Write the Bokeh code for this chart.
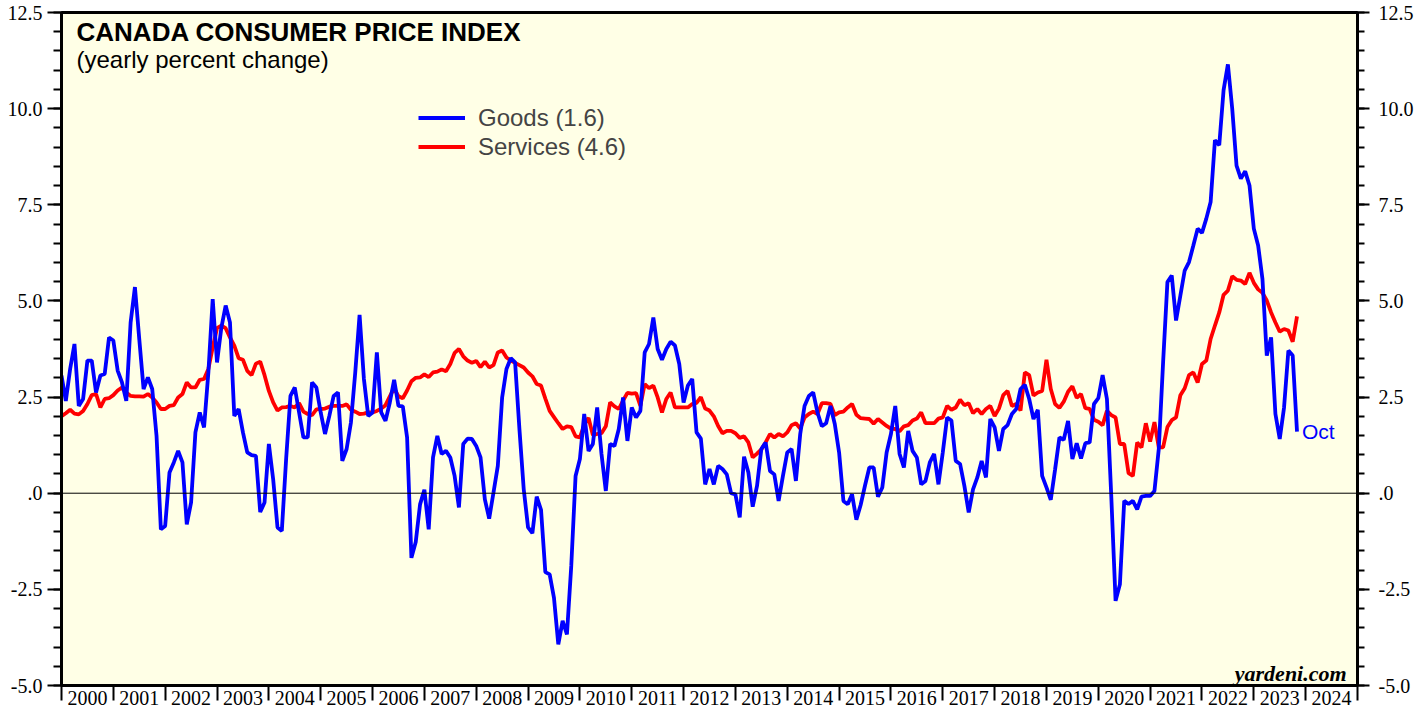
import pandas as pd
from bokeh.plotting import figure
from bokeh.models import (LinearAxis, FixedTicker, PrintfTickFormatter, Range1d,
                          Span, Label, Legend, LegendItem, ColumnDataSource)
from bokeh.embed import file_html
from bokeh.resources import INLINE

# ---------------- data (monthly, yearly % change), first value = Dec 1999 ----------------
start_month = "1999-12"

goods = [
    3.06,
    2.40, 3.23, 3.88, 2.27, 2.45, 3.45, 3.45, 2.62, 3.06, 3.10, 4.05, 3.97,      # 2000
    3.19, 2.88, 2.40, 4.44, 5.36, 4.01, 2.71, 3.01, 2.71, 1.49, -0.94, -0.85,    # 2001
    0.54, 0.80, 1.10, 0.80, -0.81, -0.24, 1.58, 2.10, 1.71, 3.14, 5.05, 3.40,    # 2002
    4.30, 4.88, 4.44, 2.01, 2.19, 1.58, 1.06, 0.99, 0.97, -0.49, -0.24, 1.28,    # 2003
    0.36, -0.89, -0.98, 0.89, 2.53, 2.75, 2.10, 1.45, 1.45, 2.88, 2.75, 2.10,    # 2004
    1.54, 2.01, 2.53, 2.62, 0.84, 1.15, 1.84, 3.14, 4.64, 2.97, 2.01, 2.10,      # 2005
    3.66, 2.10, 1.88, 2.36, 2.95, 2.27, 2.26, 1.45, -1.68, -1.27, -0.29, 0.09,   # 2006
    -0.94, 0.93, 1.49, 1.02, 1.10, 0.93, 0.45, -0.37, 1.28, 1.42, 1.41, 1.23,    # 2007
    0.93, -0.16, -0.66, 0.02, 0.71, 2.49, 3.23, 3.51, 3.40, 1.67, 0.10, -0.89,   # 2008
    -1.04, -0.09, -0.43, -2.05, -2.11, -2.72, -3.93, -3.32, -3.67, -1.89, 0.45, 0.89,  # 2009
    2.06, 1.10, 1.28, 2.23, 1.02, 0.06, 1.28, 1.23, 1.67, 2.49, 1.36, 2.23,      # 2010
    1.97, 2.14, 3.66, 3.88, 4.57, 3.75, 3.47, 3.75, 3.94, 3.84, 3.36, 2.36,      # 2011
    2.80, 2.97, 1.58, 1.42, 0.23, 0.63, 0.23, 0.71, 0.63, 0.49, 0.00, -0.03,     # 2012
    -0.63, 0.95, 0.54, -0.35, 0.19, 1.15, 1.32, 0.58, 0.49, -0.20, 0.45, 1.06,   # 2013
    1.15, 0.32, 1.54, 2.27, 2.53, 2.62, 2.10, 1.74, 1.82, 2.27, 1.80, 1.06,      # 2014
    -0.20, -0.29, -0.03, -0.69, -0.30, 0.20, 0.67, 0.67, -0.09, 0.15, 1.06, 1.54,  # 2015
    2.27, 1.02, 0.67, 1.62, 1.10, 0.93, 0.23, 0.32, 0.80, 1.02, 0.23, 1.06,      # 2016
    1.97, 1.89, 0.84, 0.76, 0.19, -0.50, 0.10, 0.41, 0.84, 0.41, 1.93, 1.71,     # 2017
    1.10, 1.67, 1.77, 2.06, 2.19, 2.71, 2.82, 2.45, 1.93, 2.17, 0.45, 0.15,      # 2018
    -0.17, 0.62, 1.45, 1.39, 1.88, 0.89, 1.30, 0.90, 1.30, 1.32, 2.32, 2.47,     # 2019
    3.07, 2.45, -0.07, -2.80, -2.37, -0.20, -0.28, -0.20, -0.42, -0.09, -0.07, -0.07,  # 2020
    0.06, 1.15, 3.40, 5.49, 5.66, 4.49, 5.14, 5.79, 6.01, 6.44, 6.88, 6.77,      # 2021
    7.14, 7.57, 9.18, 9.05, 10.48, 11.15, 10.00, 8.52, 8.18, 8.37, 8.00, 6.88,   # 2022
    6.44, 5.57, 3.58, 4.05, 2.06, 1.41, 2.23, 3.71, 3.58, 1.60,                  # 2023
]

services = [
    2.00,
    2.08, 2.17, 2.07, 2.05, 2.14, 2.32, 2.55, 2.58, 2.23, 2.45, 2.47, 2.55,      # 2000
    2.67, 2.75, 2.62, 2.53, 2.52, 2.52, 2.51, 2.58, 2.49, 2.36, 2.19, 2.19,      # 2001
    2.27, 2.29, 2.49, 2.58, 2.88, 2.75, 2.75, 2.95, 2.97, 3.23, 3.79, 4.29,      # 2002
    4.36, 4.29, 4.05, 3.84, 3.51, 3.47, 3.18, 3.07, 3.37, 3.42, 3.07, 2.66,      # 2003
    2.36, 2.15, 2.23, 2.24, 2.27, 2.23, 2.34, 2.12, 2.06, 2.03, 2.18, 2.19,      # 2004
    2.20, 2.25, 2.27, 2.27, 2.27, 2.31, 2.17, 2.12, 2.06, 2.07, 2.10, 2.10,      # 2005
    2.14, 2.20, 2.29, 2.52, 2.73, 2.52, 2.47, 2.67, 2.91, 3.00, 3.01, 3.09,      # 2006
    3.02, 3.14, 3.16, 3.22, 3.17, 3.36, 3.65, 3.75, 3.56, 3.45, 3.39, 3.44,      # 2007
    3.28, 3.42, 3.27, 3.33, 3.66, 3.71, 3.53, 3.45, 3.39, 3.33, 3.27, 3.14,      # 2008
    3.04, 2.84, 2.80, 2.46, 2.14, 1.98, 1.82, 1.67, 1.74, 1.72, 1.48, 1.45,      # 2009
    1.77, 1.96, 1.51, 1.54, 1.56, 1.74, 2.36, 2.26, 2.19, 2.41, 2.61, 2.59,      # 2010
    2.60, 2.27, 2.84, 2.73, 2.80, 2.49, 2.10, 2.45, 2.62, 2.23, 2.23, 2.23,      # 2011
    2.23, 2.32, 2.35, 2.50, 2.20, 2.15, 2.00, 1.75, 1.56, 1.62, 1.62, 1.56,      # 2012
    1.44, 1.48, 1.32, 0.93, 1.03, 1.14, 1.32, 1.54, 1.45, 1.54, 1.48, 1.58,      # 2013
    1.77, 1.82, 1.68, 1.97, 2.06, 2.12, 2.06, 2.34, 2.34, 2.32, 2.03, 2.10,      # 2014
    2.12, 2.23, 2.32, 2.04, 1.95, 1.94, 1.93, 1.81, 1.93, 1.84, 1.75, 1.68,      # 2015
    1.67, 1.61, 1.74, 1.77, 1.89, 1.94, 2.10, 1.82, 1.82, 1.82, 1.94, 1.97,      # 2016
    2.27, 2.17, 2.23, 2.43, 2.29, 2.34, 2.08, 2.19, 2.06, 2.19, 2.27, 2.01,      # 2017
    2.20, 2.55, 2.66, 2.27, 2.32, 2.15, 3.14, 3.07, 2.54, 2.62, 2.66, 3.47,      # 2018
    2.71, 2.32, 2.22, 2.38, 2.64, 2.78, 2.48, 2.58, 2.21, 2.19, 1.91, 1.86,      # 2019
    1.77, 2.14, 2.03, 1.97, 1.28, 1.28, 0.52, 0.45, 1.32, 1.19, 1.82, 1.34,      # 2020
    1.85, 1.19, 1.19, 1.72, 1.90, 1.97, 2.55, 2.73, 3.07, 3.14, 2.88, 3.36,      # 2021
    3.45, 4.01, 4.36, 4.70, 5.16, 5.27, 5.64, 5.55, 5.53, 5.44, 5.73, 5.47,      # 2022
    5.30, 5.21, 5.01, 4.70, 4.44, 4.20, 4.27, 4.23, 3.94, 4.60,                  # 2023
]

years = list(range(2000, 2025))
y_major_ticks = [-5.0, -2.5, 0.0, 2.5, 5.0, 7.5, 10.0, 12.5]
title_text = "CANADA CONSUMER PRICE INDEX"
subtitle_text = "(yearly percent change)"
credit_text = "yardeni.com"

# ---------------- build ----------------
periods = pd.period_range(start_month, periods=len(goods), freq="M")
xs = [pr.year + pr.month / 12.0 for pr in periods]   # month-end positions
src = ColumnDataSource(dict(x=xs, goods=goods, services=services))

p = figure(width=1417, height=713,
           x_range=Range1d(2000, 2025), y_range=Range1d(-5, 12.5),
           output_backend="svg", toolbar_location=None,
           min_border_left=61, min_border_right=60, min_border_top=12, min_border_bottom=28)

p.background_fill_color = "#FFFFE6"
p.border_fill_color = "white"
p.outline_line_color = "black"
p.outline_line_width = 3
p.grid.visible = False

SERIF = "Liberation Serif"
SANS = "Liberation Sans"

# bottom axis: labels at mid-year, separator ticks at year boundaries
xa = p.xaxis[0]
xa.ticker = FixedTicker(ticks=[y + 0.5 for y in years], minor_ticks=years + [years[-1] + 1])
xa.major_label_overrides = {y + 0.5: str(y) for y in years}
xa.major_tick_out = 0
xa.major_tick_in = 0
xa.minor_tick_out = 15
xa.minor_tick_in = 0
xa.minor_tick_line_width = 2
xa.minor_tick_line_color = "black"
xa.axis_line_width = 3
xa.major_label_standoff = -10
xa.major_label_text_font = SERIF
xa.major_label_text_font_size = "20px"
xa.major_label_text_color = "black"

minor_y = [-5 + 0.5 * i for i in range(36)]


def style_y(ax, tick_out, minor_out, standoff):
    ax.ticker = FixedTicker(ticks=y_major_ticks, minor_ticks=minor_y)
    ax.formatter = PrintfTickFormatter(format="%.1f")
    ax.major_label_overrides = {0: ".0"}
    ax.major_tick_out = tick_out
    ax.major_tick_in = 0
    ax.minor_tick_out = minor_out
    ax.minor_tick_in = 0
    ax.major_tick_line_width = 2
    ax.minor_tick_line_width = 2
    ax.axis_line_width = 3
    ax.major_label_standoff = standoff
    ax.major_label_text_font = SERIF
    ax.major_label_text_font_size = "20px"
    ax.major_label_text_color = "black"


style_y(p.yaxis[0], 14, 8, 5)
right_axis = LinearAxis()
style_y(right_axis, 12, 7, 9)
p.add_layout(right_axis, "right")

# zero line
p.add_layout(Span(location=0, dimension="width", line_color="black", line_width=1))

r_s = p.line("x", "services", source=src, line_color="#FF0000", line_width=3.8)
r_g = p.line("x", "goods", source=src, line_color="#0000FF", line_width=3.8)

legend = Legend(items=[
    LegendItem(label=f"Goods ({goods[-1]:.1f})", renderers=[r_g]),
    LegendItem(label=f"Services ({services[-1]:.1f})", renderers=[r_s]),
], location=(357, 524), orientation="vertical",
    border_line_color=None, background_fill_alpha=0,
    label_text_font=SANS, label_text_font_size="24px",
    glyph_width=47, glyph_height=29, label_height=29, label_standoff=13,
    padding=0, spacing=0, margin=0)
p.add_layout(legend, "center")

# texts
p.add_layout(Label(x=2000.29, y=12.37, text=title_text, text_font=SANS,
                   text_font_style="bold", text_font_size="26px",
                   text_baseline="top", text_color="black"))
p.add_layout(Label(x=2000.29, y=11.62, text=subtitle_text, text_font=SANS,
                   text_font_size="24px", text_baseline="top", text_color="black"))
p.add_layout(Label(x=xs[-1], y=goods[-1], x_offset=5, text=periods[-1].strftime("%b"),
                   text_font=SANS, text_font_size="21px", text_baseline="middle",
                   text_color="#0000FF"))
p.add_layout(Label(x=2024.79, y=-4.69, text=credit_text, text_font=SERIF,
                   text_font_style="bold italic", text_font_size="22px",
                   text_align="right", text_baseline="alphabetic", text_color="black"))

open("out.html", "w").write(file_html(p, INLINE))
